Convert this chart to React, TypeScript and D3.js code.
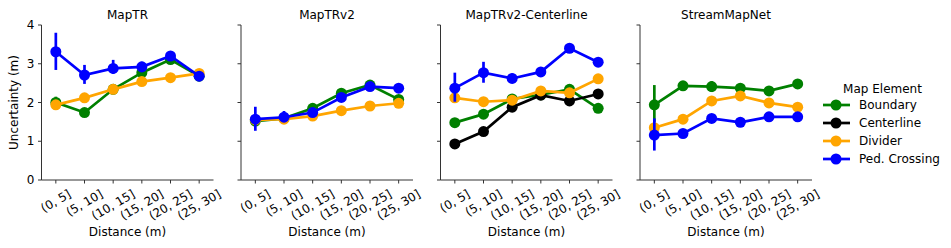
import React from "react";
import * as d3 from "d3";

const categories = ["(0, 5]", "(5, 10]", "(10, 15]", "(15, 20]", "(20, 25]", "(25, 30]"];
const panelTitles = ["MapTR", "MapTRv2", "MapTRv2-Centerline", "StreamMapNet"];
const seriesNames = ["Boundary", "Centerline", "Divider", "Ped. Crossing"];
const seriesColors = ["#008000", "#000000", "#FFA500", "#0000FF"];
const yTicks = [0, 1, 2, 3, 4];

// values[panel][series] (null = series absent)
const mapTR = [
  [2.0, 1.74, 2.34, 2.77, 3.11, 2.68],
  null,
  [1.94, 2.12, 2.34, 2.54, 2.64, 2.75],
  [3.31, 2.71, 2.88, 2.92, 3.2, 2.68],
];
const mapTRErr = [
  [[1.9, 2.15], [1.68, 1.8], [2.29, 2.39], [2.7, 2.84], [3.05, 3.18], [2.63, 2.73]],
  null,
  [[1.9, 1.98], [2.08, 2.16], [2.3, 2.38], [2.5, 2.58], [2.6, 2.68], [2.71, 2.79]],
  [[2.84, 3.8], [2.48, 2.97], [2.74, 3.1], [2.78, 3.05], [3.1, 3.3], [2.63, 2.73]],
];
const mapTRv2 = [
  [1.52, 1.59, 1.85, 2.24, 2.45, 2.08],
  null,
  [1.55, 1.57, 1.65, 1.79, 1.91, 1.98],
  [1.57, 1.62, 1.74, 2.13, 2.41, 2.37],
];
const mapTRv2Err = [
  [[1.48, 1.56], [1.55, 1.63], [1.8, 1.9], [2.19, 2.29], [2.4, 2.5], [2.03, 2.13]],
  null,
  [[1.51, 1.59], [1.53, 1.61], [1.61, 1.69], [1.75, 1.83], [1.87, 1.95], [1.94, 2.02]],
  [[1.27, 1.89], [1.5, 1.78], [1.68, 1.8], [2.07, 2.19], [2.36, 2.46], [2.32, 2.42]],
];
const mapTRv2C = [
  [1.48, 1.7, 2.09, 2.2, 2.34, 1.85],
  [0.93, 1.25, 1.88, 2.19, 2.04, 2.22],
  [2.12, 2.02, 2.06, 2.3, 2.25, 2.61],
  [2.37, 2.77, 2.62, 2.79, 3.4, 3.04],
];
const mapTRv2CErr = [
  [[1.44, 1.52], [1.66, 1.74], [2.05, 2.13], [2.16, 2.24], [2.3, 2.38], [1.81, 1.89]],
  [[0.89, 0.97], [1.21, 1.29], [1.84, 1.92], [2.15, 2.23], [2.0, 2.08], [2.18, 2.26]],
  [[2.08, 2.16], [1.98, 2.06], [2.02, 2.1], [2.26, 2.34], [2.21, 2.29], [2.57, 2.65]],
  [[2.02, 2.77], [2.51, 3.05], [2.5, 2.75], [2.7, 2.88], [3.3, 3.5], [2.95, 3.13]],
];
const streamMapNet = [
  [1.94, 2.43, 2.41, 2.37, 2.3, 2.48],
  null,
  [1.35, 1.57, 2.04, 2.17, 1.99, 1.88],
  [1.16, 1.2, 1.59, 1.49, 1.63, 1.63],
];
const streamMapNetErr = [
  [[1.5, 2.45], [2.3, 2.55], [2.27, 2.55], [2.32, 2.42], [2.25, 2.35], [2.42, 2.54]],
  null,
  [[1.31, 1.39], [1.53, 1.61], [2.0, 2.08], [2.13, 2.21], [1.95, 2.03], [1.84, 1.92]],
  [[0.76, 1.59], [1.14, 1.26], [1.55, 1.63], [1.45, 1.53], [1.59, 1.67], [1.59, 1.67]],
];

const panelValues = [mapTR, mapTRv2, mapTRv2C, streamMapNet];
const panelErrors = [mapTRErr, mapTRv2Err, mapTRv2CErr, streamMapNetErr];

const W = 951;
const H = 248;
const panelLefts = [41.5, 241, 440.5, 640];
const panelW = 172;
const top = 25;
const bottom = 180;
const FS = 12;
const font = "DejaVu Sans, sans-serif";

function tickLabelWidth(s: string) {
  let w = 0;
  for (const c of s) {
    if (c === "(" || c === "]") w += 3.9;
    else if (c === "," || c === " ") w += 3.18;
    else w += 6.36;
  }
  return (w * FS) / 10;
}

export default function App() {
  const y = d3.scaleLinear().domain([0, 4]).range([bottom, top]);
  return (
    <svg
      width={W}
      height={H}
      style={{ position: "absolute", left: 0, top: 0, background: "#fff" }}
      fontFamily={font}
    >
      <text
        transform={`translate(17.5,${(top + bottom) / 2}) rotate(-90)`}
        textAnchor="middle"
        fontSize={FS}
        fill="#000"
      >
        Uncertainty (m)
      </text>
      {panelTitles.map((title, p) => {
        const x0 = panelLefts[p];
        const x = d3
          .scalePoint<string>()
          .domain(categories)
          .range([x0, x0 + panelW])
          .padding(0.5);
        const line = d3
          .line<number>()
          .x((_, i) => x(categories[i]) as number)
          .y((v) => y(v));
        return (
          <g key={title}>
            <text
              x={x0 + panelW / 2}
              y={18.5}
              textAnchor="middle"
              fontSize={FS}
              fill="#000"
            >
              {title}
            </text>
            <line x1={x0} x2={x0} y1={top} y2={bottom} stroke="#333" strokeWidth={1} />
            <line x1={x0} x2={x0 + panelW} y1={bottom} y2={bottom} stroke="#333" strokeWidth={1} />
            {yTicks.map((t) => (
              <g key={t}>
                <line x1={x0 - 3.5} x2={x0} y1={y(t)} y2={y(t)} stroke="#333" strokeWidth={1} />
                {p === 0 && (
                  <text
                    x={x0 - 7}
                    y={y(t)}
                    textAnchor="end"
                    dominantBaseline="central"
                    fontSize={FS}
                    fill="#000"
                  >
                    {t}
                  </text>
                )}
              </g>
            ))}
            {categories.map((c) => {
              const cx = x(c) as number;
              const w = tickLabelWidth(c);
              const bh = w * 0.5 + 14 * 0.866;
              const cy = bottom + 7 + bh / 2;
              return (
                <g key={c}>
                  <line x1={cx} x2={cx} y1={bottom} y2={bottom + 3.5} stroke="#333" strokeWidth={1} />
                  <text
                    transform={`translate(${cx},${cy}) rotate(-30)`}
                    textAnchor="middle"
                    dominantBaseline="central"
                    fontSize={FS}
                    fill="#000"
                  >
                    {c}
                  </text>
                </g>
              );
            })}
            <text
              x={x0 + panelW / 2}
              y={236}
              textAnchor="middle"
              fontSize={FS}
              fill="#000"
            >
              Distance (m)
            </text>
            {seriesNames.map((s, k) => {
              const vals = panelValues[p][k];
              const errs = panelErrors[p][k];
              if (!vals || !errs) return null;
              const col = seriesColors[k];
              return (
                <g key={s}>
                  {errs.map((e, i) => (
                    <line
                      key={i}
                      x1={x(categories[i]) as number}
                      x2={x(categories[i]) as number}
                      y1={y(e[0])}
                      y2={y(e[1])}
                      stroke={col}
                      strokeWidth={2.7}
                    />
                  ))}
                  <path d={line(vals) || ""} fill="none" stroke={col} strokeWidth={2.7} />
                  {vals.map((v, i) => (
                    <circle
                      key={i}
                      cx={x(categories[i]) as number}
                      cy={y(v)}
                      r={5.5}
                      fill={col}
                    />
                  ))}
                </g>
              );
            })}
          </g>
        );
      })}
      <g>
        <text x={882.5} y={93} textAnchor="middle" fontSize={FS} fill="#000">
          Map Element
        </text>
        {seriesNames.map((s, k) => {
          const ly = 105 + k * 18;
          return (
            <g key={s}>
              <line x1={823} x2={850} y1={ly} y2={ly} stroke={seriesColors[k]} strokeWidth={2.7} />
              <circle cx={836} cy={ly} r={5.5} fill={seriesColors[k]} />
              <text x={859} y={ly} dominantBaseline="central" fontSize={FS} fill="#000">
                {s}
              </text>
            </g>
          );
        })}
      </g>
    </svg>
  );
}
